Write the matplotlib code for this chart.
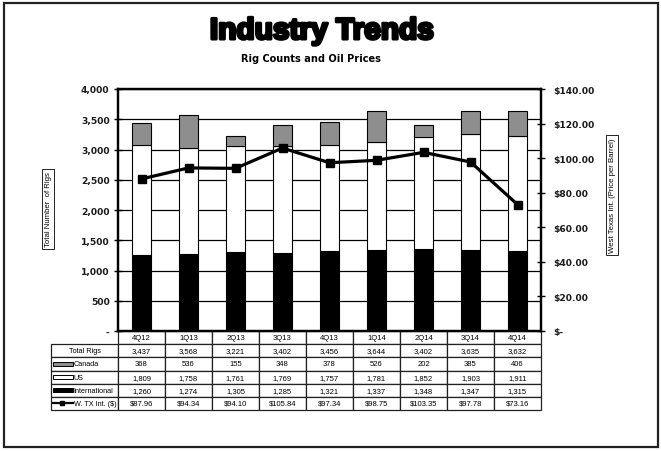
import matplotlib
matplotlib.use('Agg')
import matplotlib.pyplot as plt
from matplotlib.patches import Rectangle
from matplotlib.lines import Line2D
import matplotlib.patheffects as pe
from matplotlib import font_manager as fm
import numpy as np

# ---------------- data ----------------
quarters = ['4Q12', '1Q13', '2Q13', '3Q13', '4Q13', '1Q14', '2Q14', '3Q14', '4Q14']
total_rigs = [3437, 3568, 3221, 3402, 3456, 3644, 3402, 3635, 3632]
canada = [368, 536, 155, 348, 378, 526, 202, 385, 406]
us = [1809, 1758, 1761, 1769, 1757, 1781, 1852, 1903, 1911]
international = [1260, 1274, 1305, 1285, 1321, 1337, 1348, 1347, 1315]
wti = [87.96, 94.34, 94.10, 105.84, 97.34, 98.75, 103.35, 97.78, 73.16]

left_ticks = [0, 500, 1000, 1500, 2000, 2500, 3000, 3500, 4000]
left_tick_labels = ['-', '500', '1,000', '1,500', '2,000', '2,500', '3,000', '3,500', '4,000']
right_ticks = [0, 20, 40, 60, 80, 100, 120, 140]
right_tick_labels = ['$-', '$20.00', '$40.00', '$60.00', '$80.00', '$100.00', '$120.00', '$140.00']
row_labels = ['Total Rigs', 'Canada', 'US', 'International', 'W. TX Int. ($)']

# ---------------- fonts ----------------
names = {f.name for f in fm.fontManager.ttflist}
narrow = 'Liberation Sans Narrow' if 'Liberation Sans Narrow' in names else 'Liberation Sans'
tick_font = 'DejaVu Sans'

W, H = 661, 452
fig = plt.figure(figsize=(W / 100, H / 100), dpi=100)
fig.patch.set_facecolor('white')


def fx(px):
    return px / W


def fy(py):
    return 1 - py / H


L, R, T, B = 118, 541, 90, 332
ax = fig.add_axes([fx(L), fy(B), fx(R) - fx(L), fy(T) - fy(B)])
x = np.arange(len(quarters))
bw = 0.41
ax.bar(x, international, bw, color='black', edgecolor='black', lw=0.8, zorder=2)
ax.bar(x, us, bw, bottom=international, color='white', edgecolor='black', lw=0.8, zorder=2)
bottom_c = np.array(international) + np.array(us)
ax.bar(x, canada, bw, bottom=bottom_c, color='#8e8e8e', edgecolor='black', lw=0.8, zorder=2)

ax.set_xlim(-0.5, len(quarters) - 0.5)
ax.set_ylim(0, 4000)
ax.set_yticks(left_ticks)
ax.set_yticklabels(left_tick_labels, fontsize=6.6, fontweight='bold', family=tick_font, color='#1a1a1a')
ax.set_xticks([])
ax.yaxis.grid(True, color='black', lw=0.9)
ax.set_axisbelow(True)
ax.tick_params(axis='y', direction='inout', length=6, width=1, pad=3)
for s in ax.spines.values():
    s.set_linewidth(1.6)

ax2 = ax.twinx()
ax2.set_ylim(0, 140)
ax2.set_yticks(right_ticks)
ax2.set_yticklabels(right_tick_labels, fontsize=6.6, fontweight='bold', family=tick_font, color='#1a1a1a')
ax2.tick_params(axis='y', direction='inout', length=6, width=1, pad=6)
for s in ax2.spines.values():
    s.set_linewidth(1.6)
ax2.plot(x, wti, color='black', lw=2.3, marker='s', ms=6, zorder=5)

# ---------------- table ----------------
cell_text = [[''] + [f'{v:,}' for v in total_rigs],
             [''] + [f'{v:,}' for v in canada],
             [''] + [f'{v:,}' for v in us],
             [''] + [f'{v:,}' for v in international],
             [''] + [f'${v:.2f}' for v in wti]]
axw = R - L
axh = B - T
lab_w = (L - 51) / axw
tab_h = (411 - 332) / axh
tbl = ax.table(cellText=cell_text, colLabels=[''] + quarters,
               colWidths=[lab_w] + [1 / 9] * 9, cellLoc='center',
               bbox=[-lab_w, -tab_h, 1 + lab_w, tab_h])
tbl.auto_set_font_size(False)
tbl.set_fontsize(5.5)
for (r, c), cell in tbl.get_celld().items():
    cell.set_linewidth(0.9)
    cell.set_edgecolor('#222222')
    cell.get_text().set_fontfamily(narrow)
    if r == 0 and c == 0:
        cell.visible_edges = ''

nrows = 6
rh = (411 - 332) / nrows
for i, lbl in enumerate(row_labels):
    cy = 332 + rh * (i + 1.5)
    if i == 0:
        fig.text(fx(85), fy(cy), lbl, ha='center', va='center', fontsize=5.3, family=narrow)
        continue
    fig.text(fx(73.5), fy(cy), lbl, ha='left', va='center', fontsize=5.2, family=narrow)
    if i in (1, 2, 3):
        fc = {1: '#8e8e8e', 2: 'white', 3: 'black'}[i]
        fig.add_artist(Rectangle((fx(53), fy(cy + 2.2)), fx(73) - fx(53), fy(cy - 2.2) - fy(cy + 2.2),
                                 transform=fig.transFigure, fc=fc, ec='black', lw=0.7))
    else:
        fig.add_artist(Line2D([fx(53), fx(73)], [fy(cy), fy(cy)], transform=fig.transFigure,
                              color='black', lw=1.6))
        fig.add_artist(Line2D([fx(62)], [fy(cy)], transform=fig.transFigure,
                              color='black', marker='s', ms=3.2, lw=0))

# ---------------- axis titles ----------------
box = dict(boxstyle='square,pad=0.3', fc='white', ec='black', lw=0.6)
fig.text(fx(48), fy(210), 'Total Number  of Rigs', rotation=90, ha='center', va='center',
         fontsize=5.6, family=narrow, bbox=box)
fig.text(fx(612), fy(196), 'West Texas Int. (Price per Barrel)', rotation=90, ha='center', va='center',
         fontsize=5.6, family=narrow, bbox=box)

# ---------------- titles ----------------
fig.text(fx(322), fy(40), 'Industry Trends', ha='center', va='baseline', fontsize=21.5,
         fontweight='bold', family='Liberation Sans', color='black',
         path_effects=[pe.withStroke(linewidth=2.2, foreground='black')])
fig.text(fx(311), fy(62), 'Rig Counts and Oil Prices', ha='center', va='baseline', fontsize=7.8,
         fontweight='bold', family='DejaVu Sans', fontstretch='condensed')

# outer border
fig.add_artist(Rectangle((fx(4), fy(448)), fx(658) - fx(4), fy(4) - fy(448),
                         transform=fig.transFigure, fill=False, ec='#222222', lw=1.6))

fig.savefig('out.png', dpi=100, facecolor='white')
